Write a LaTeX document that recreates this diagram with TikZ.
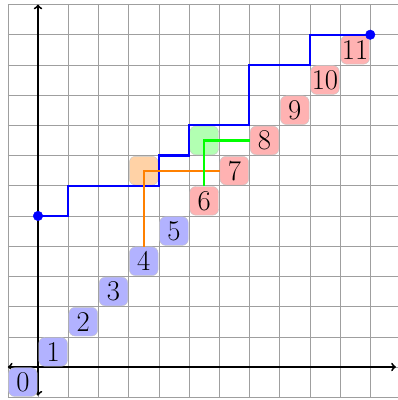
\documentclass[tikz,border=0pt]{standalone}
\begin{document}
\begin{tikzpicture}[
  cell/.style={rounded corners=0.2cm, minimum size=0.95cm, inner sep=0pt, draw=gray!45, font=\fontsize{27}{30}\selectfont},
  bcell/.style={cell, fill=blue!30},
  rcell/.style={cell, fill=red!30},
  ocell/.style={cell, fill=orange!35},
  gcell/.style={cell, fill=green!30},
  pathline/.style={line width=2pt},
  dot/.style={circle, fill=blue, draw=blue, inner sep=0pt, minimum size=9pt},
  axis/.style={line width=1.8pt, <->}
]
\useasboundingbox (-1.258,-1.093) rectangle (11.887,12.15);
\draw[gray!75, line width=0.5pt] (-1,-1) grid (12,12);
\draw[axis] (-1,0) -- (11.85,0);
\draw[axis] (0,-0.95) -- (0,12);
\foreach \i in {0,...,5} { \node[bcell] (n\i) at (\i-0.5,\i-0.5) {\i}; }
\foreach \i in {6,...,11} { \node[rcell] (n\i) at (\i-0.5,\i-0.5) {\i}; }
\node[ocell] (ob) at (3.5,6.5) {};
\node[gcell] (gb) at (5.5,7.5) {};
\coordinate (s) at (0,5);
\coordinate (e) at (11,11);
\draw[pathline, blue] (s) -| (1,6) -| (4,7) -| (5,8) -| (7,10) -| (9,11) -- (e);
\draw[pathline, orange] (n4) |- (n7);
\draw[pathline, green] (n6) |- (n8);
\node[dot] (sd) at (s) {};
\node[dot] (ed) at (e) {};
\end{tikzpicture}
\end{document}
